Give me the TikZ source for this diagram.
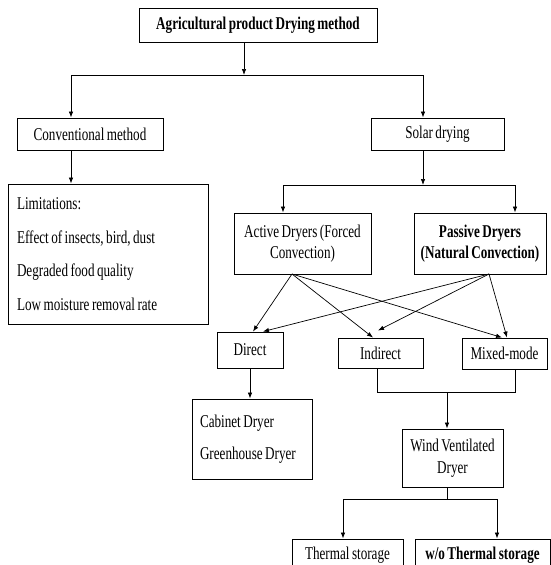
\documentclass[tikz,border=0pt]{standalone}
\usepackage{fontspec}
\setmainfont{Liberation Serif}[FakeStretch=0.73, WordSpace=0.75]
\usetikzlibrary{arrows.meta}

\begin{document}
\begin{tikzpicture}[x=1pt, y=-1pt,
  box/.style={draw, line width=0.9pt, inner sep=3pt, align=center,
    font=\fontsize{18}{21.6}\selectfont},
  listbox/.style={box, align=left, execute at begin node={\spaceskip=0pt\xspaceskip=0pt}},
  arr/.style={-{Latex[length=6pt,width=4.5pt]}, line width=0.7pt},
  lin/.style={line width=0.7pt}]
  \useasboundingbox (0,0) rectangle (551,565);
  \clip (0,0) rectangle (551,565);

  % Radice
  \node[box, minimum width=238, minimum height=34] (root) at (258,25)
    {\bfseries Agricultural product Drying method};

  % Primo livello
  \node[box, minimum width=146, minimum height=32] (conv) at (90,134) {Conventional method};
  \node[box, minimum width=133, minimum height=32] (solar) at (437.5,134) {Solar drying};
  \node[listbox, minimum width=200, minimum height=140, text width=182] (limits) at (108,254)
    {Limitations:\\[12pt] Effect of insects, bird, dust\\[12pt] Degraded food quality\\[12pt] Low moisture removal rate};

  % Attivi / passivi
  \node[box, minimum width=137, minimum height=61] (active) at (302.5,243.5)
    {Active Dryers (Forced\\ Convection)};
  \node[box, minimum width=132, minimum height=61] (passive) at (480,243.5)
    {\bfseries Passive Dryers\\ \bfseries (Natural Convection)};

  % Modi
  \node[box, minimum width=66, minimum height=36] (direct) at (250,350) {Direct};
  \node[box, minimum width=85, minimum height=30] (indirect) at (380.5,353) {Indirect};
  \node[box, minimum width=85, minimum height=31] (mixed) at (504.5,353.5) {Mixed-mode};

  % Essiccatori
  \node[listbox, minimum width=120, minimum height=80, text width=104] (cabinet) at (252,439)
    {Cabinet Dryer\\[11pt] Greenhouse Dryer};
  \node[box, minimum width=101, minimum height=58] (wind) at (452.5,458)
    {Wind Ventilated\\ Dryer};
  \node[box, minimum width=111, minimum height=32] (thermal) at (347.5,555) {Thermal storage};
  \node[box, minimum width=135, minimum height=32] (wothermal) at (482.5,555)
    {\bfseries w/o Thermal storage};

  % Giunzioni
  \coordinate (j0) at (244,75);
  \coordinate (j0l) at (71,75);
  \coordinate (j0r) at (423,75);
  \coordinate (j1) at (423,185);
  \coordinate (j1l) at (283,185);
  \coordinate (j1r) at (515,185);
  \coordinate (as) at (292,274);
  \coordinate (ps) at (489,274);
  \coordinate (j2l) at (377,392);
  \coordinate (j2) at (447,392);
  \coordinate (j2r) at (515,392);
  \coordinate (j3) at (447,499);
  \coordinate (j3l) at (343,499);
  \coordinate (j3r) at (497,499);

  % Collegamenti
  \draw[arr] (root.south -| j0) -- (j0);
  \draw[lin] (j0l) -- (j0r);
  \draw[arr] (j0l) -- (conv.north -| j0l);
  \draw[arr] (j0r) -- (solar.north -| j0r);
  \draw[arr] (conv.south -| j0l) -- (limits.north -| j0l);

  \draw[arr] (solar.south -| j1) -- (j1);
  \draw[lin] (j1l) -- (j1r);
  \draw[arr] (j1l) -- (active.north -| j1l);
  \draw[arr] (j1r) -- (passive.north -| j1r);

  \draw[arr] (as) -- ([xshift=3pt]direct.north);
  \draw[arr] (as) -- ([xshift=-7.5pt]indirect.north);
  \draw[arr] (as) -- ([xshift=-2.5pt]mixed.north);
  \draw[arr] (ps) -- ([xshift=13pt]direct.north);
  \draw[arr] (ps) -- ([xshift=-2.5pt,yshift=7pt]indirect.north);
  \draw[arr] (ps) -- ([xshift=2.5pt]mixed.north);

  \draw[arr] (direct.south) -- (cabinet.north -| direct.south);
  \draw[lin] (indirect.south -| j2l) -- (j2l) -- (j2r) -- (mixed.south -| j2r);
  \draw[arr] (j2) -- (wind.north -| j2);

  \draw[lin] (wind.south -| j3) -- (j3);
  \draw[lin] (j3l) -- (j3r);
  \draw[arr] (j3l) -- (thermal.north -| j3l);
  \draw[arr] (j3r) -- (wothermal.north -| j3r);
\end{tikzpicture}
\end{document}
